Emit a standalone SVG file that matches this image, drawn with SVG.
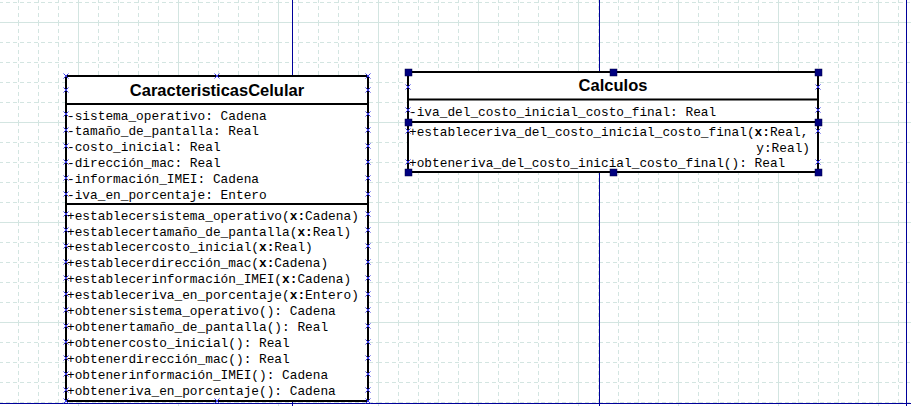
<svg xmlns="http://www.w3.org/2000/svg" width="911" height="406" viewBox="0 0 911 406">
<style>
.mono{font-family:"Liberation Mono","Courier New",monospace;font-size:12.8px;fill:#000}
.title{font-family:"Liberation Sans",Arial,sans-serif;font-size:16.5px;font-weight:bold;fill:#000;text-anchor:middle}
.box{fill:#fff;stroke:#000;stroke-width:2}
.sep{stroke:#000;stroke-width:2}
.page{stroke:#00009a;stroke-width:1;fill:none}
.h{fill:#000080;stroke:#000040;stroke-width:0.5}
.b{font-weight:bold}
</style>
<defs>
<pattern id="grid" patternUnits="userSpaceOnUse" x="78" y="22" width="100" height="100">
<g stroke="#d3e5e1" stroke-width="1" fill="none">
<path d="M0.5,0V100M0,0.5H100"/>
<path d="M20.5,0V100M40.5,0V100M60.5,0V100M80.5,0V100M0,20.5H100M0,40.5H100M0,60.5H100M0,80.5H100" stroke-dasharray="4,3"/>
</g>
</pattern>
<symbol id="xm" overflow="visible"><path d="M-2.5,-2.5L2.5,2.5M-2.5,2.5L2.5,-2.5" stroke="#3a3ae8" stroke-width="1" fill="none"/></symbol>
</defs>
<rect width="911" height="406" fill="#fff"/>
<rect width="911" height="406" fill="url(#grid)"/>
<g id="page-lines">
<path class="page" d="M292.5,0V406M599.5,0V406M906.5,0V406M0,403.5H911"/>
</g>
<g id="connectors"></g>
<g id="CaracteristicasCelular">
<rect class="box" x="66" y="76" width="302" height="325"/>
<path class="sep" d="M66,104H368M66,204H368"/>
<text class="title" x="217" y="96">CaracteristicasCelular</text>
<g class="mono">
<text x="67" y="119.5">-sistema_operativo: Cadena</text>
<text x="67" y="135.4">-tamaño_de_pantalla: Real</text>
<text x="67" y="151.3">-costo_inicial: Real</text>
<text x="67" y="167.2">-dirección_mac: Real</text>
<text x="67" y="183.1">-información_IMEI: Cadena</text>
<text x="67" y="199">-iva_en_porcentaje: Entero</text>
<text x="67" y="219.5">+establecersistema_operativo(<tspan class="b">x:</tspan>Cadena)</text>
<text x="67" y="235.5">+establecertamaño_de_pantalla(<tspan class="b">x:</tspan>Real)</text>
<text x="67" y="251.4">+establecercosto_inicial(<tspan class="b">x:</tspan>Real)</text>
<text x="67" y="267.4">+establecerdirección_mac(<tspan class="b">x:</tspan>Cadena)</text>
<text x="67" y="283.3">+establecerinformación_IMEI(<tspan class="b">x:</tspan>Cadena)</text>
<text x="67" y="299.3">+estableceriva_en_porcentaje(<tspan class="b">x:</tspan>Entero)</text>
<text x="67" y="315.2">+obtenersistema_operativo(): Cadena</text>
<text x="67" y="331.2">+obtenertamaño_de_pantalla(): Real</text>
<text x="67" y="347.1">+obtenercosto_inicial(): Real</text>
<text x="67" y="363.1">+obtenerdirección_mac(): Real</text>
<text x="67" y="379">+obtenerinformación_IMEI(): Cadena</text>
<text x="67" y="395">+obteneriva_en_porcentaje(): Cadena</text>
</g>
<g>
<use href="#xm" x="66" y="76"/><use href="#xm" x="217" y="76"/><use href="#xm" x="368" y="76"/>
<use href="#xm" x="66" y="90"/><use href="#xm" x="368" y="90"/>
<use href="#xm" x="66" y="114"/><use href="#xm" x="368" y="114"/>
<use href="#xm" x="66" y="130"/><use href="#xm" x="368" y="130"/>
<use href="#xm" x="66" y="146"/><use href="#xm" x="368" y="146"/>
<use href="#xm" x="66" y="162"/><use href="#xm" x="368" y="162"/>
<use href="#xm" x="66" y="178"/><use href="#xm" x="368" y="178"/>
<use href="#xm" x="66" y="194"/><use href="#xm" x="368" y="194"/>
<use href="#xm" x="66" y="214"/><use href="#xm" x="368" y="214"/>
<use href="#xm" x="66" y="230"/><use href="#xm" x="368" y="230"/>
<use href="#xm" x="66" y="246"/><use href="#xm" x="368" y="246"/>
<use href="#xm" x="66" y="262"/><use href="#xm" x="368" y="262"/>
<use href="#xm" x="66" y="278"/><use href="#xm" x="368" y="278"/>
<use href="#xm" x="66" y="294"/><use href="#xm" x="368" y="294"/>
<use href="#xm" x="66" y="310"/><use href="#xm" x="368" y="310"/>
<use href="#xm" x="66" y="326"/><use href="#xm" x="368" y="326"/>
<use href="#xm" x="66" y="342"/><use href="#xm" x="368" y="342"/>
<use href="#xm" x="66" y="358"/><use href="#xm" x="368" y="358"/>
<use href="#xm" x="66" y="374"/><use href="#xm" x="368" y="374"/>
<use href="#xm" x="66" y="390"/><use href="#xm" x="368" y="390"/>
<use href="#xm" x="66" y="401"/><use href="#xm" x="217" y="401"/><use href="#xm" x="368" y="401"/>
</g>
</g>
<g id="Calculos">
<rect class="box" x="408" y="72" width="410" height="100"/>
<path class="sep" d="M408,99.5H818M408,122H818"/>
<text class="title" x="613" y="91">Calculos</text>
<g class="mono">
<text x="409" y="116">-iva_del_costo_inicial_costo_final: Real</text>
<text x="409" y="136">+estableceriva_del_costo_inicial_costo_final(<tspan class="b">x:</tspan>Real,</text>
<text x="810" y="152" text-anchor="end">y:Real)</text>
<text x="409" y="167">+obteneriva_del_costo_inicial_costo_final(): Real</text>
</g>
<g>
<use href="#xm" x="408" y="87"/><use href="#xm" x="818" y="87"/>
<use href="#xm" x="408" y="110"/><use href="#xm" x="818" y="110"/>
<use href="#xm" x="408" y="131"/><use href="#xm" x="818" y="131"/>
<use href="#xm" x="408" y="162"/><use href="#xm" x="818" y="162"/>
</g>
<g>
<rect class="h" x="405" y="69" width="7" height="7"/>
<rect class="h" x="610" y="69" width="7" height="7"/>
<rect class="h" x="815" y="69" width="7" height="7"/>
<rect class="h" x="405" y="119" width="7" height="7"/>
<rect class="h" x="815" y="119" width="7" height="7"/>
<rect class="h" x="405" y="169" width="7" height="7"/>
<rect class="h" x="610" y="169" width="7" height="7"/>
<rect class="h" x="815" y="169" width="7" height="7"/>
</g>
</g>
</svg>
